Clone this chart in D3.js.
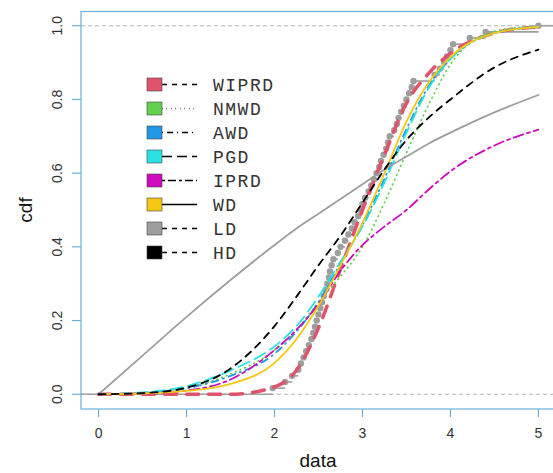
<!DOCTYPE html>
<html>
<head>
<meta charset="utf-8">
<script src="https://cdn.jsdelivr.net/npm/d3@7"></script>
<style>
  body { margin: 0; background: #fff; }
  svg { display: block; }
</style>
</head>
<body>
<svg id="cdf" width="553" height="473"></svg>
<script>
// grid of x values the fitted curves were read at
var xGrid = [0, 0.5, 1, 1.5, 2, 2.25, 2.5, 2.75, 3, 3.25, 3.5, 3.75, 4, 4.5, 5];

// fitted cdf values, one array per distribution
var WIPRD = [0, 0, 0, 0, 0.02, 0.065, 0.18, 0.34, 0.5, 0.65, 0.79, 0.87, 0.925, 0.98, 0.997];
var NMWD  = [0, 0.004, 0.018, 0.055, 0.12, 0.175, 0.25, 0.32, 0.4, 0.52, 0.655, 0.785, 0.895, 0.985, 0.999];
var AWD   = [0, 0.004, 0.016, 0.05, 0.11, 0.17, 0.25, 0.355, 0.46, 0.585, 0.72, 0.835, 0.91, 0.98, 0.997];
var PGD   = [0, 0.005, 0.022, 0.065, 0.13, 0.185, 0.265, 0.36, 0.455, 0.575, 0.71, 0.83, 0.91, 0.98, 0.997];
var IPRD  = [0, 0.002, 0.01, 0.04, 0.12, 0.175, 0.245, 0.335, 0.405, 0.455, 0.5, 0.555, 0.605, 0.675, 0.718];
var WD    = [0, 0.002, 0.009, 0.028, 0.085, 0.15, 0.24, 0.35, 0.465, 0.6, 0.74, 0.845, 0.915, 0.98, 0.997];
var LD    = [0, 0.105, 0.21, 0.31, 0.405, 0.45, 0.49, 0.53, 0.57, 0.61, 0.645, 0.68, 0.71, 0.765, 0.812];
var HD    = [0, 0.003, 0.018, 0.07, 0.185, 0.265, 0.35, 0.43, 0.52, 0.61, 0.69, 0.75, 0.8, 0.887, 0.935];

var obsData = [1.98, 2.12, 2.2, 2.27, 2.3, 2.33, 2.36, 2.39, 2.42, 2.44,
               2.46, 2.48, 2.5, 2.52, 2.54, 2.56, 2.58, 2.6, 2.62, 2.63,
               2.65, 2.67, 2.72, 2.75, 2.8, 2.84, 2.88, 2.91, 2.95, 2.98,
               3.0, 3.03, 3.07, 3.1, 3.13, 3.16, 3.19, 3.21, 3.24, 3.27,
               3.29, 3.31, 3.36, 3.39, 3.41, 3.44, 3.47, 3.5, 3.53, 3.56,
               3.58, 3.82, 3.88, 3.93, 3.96, 4.0, 4.03, 4.22, 4.4, 5.0];

var distNames = ["WIPRD", "NMWD", "AWD", "PGD", "IPRD", "WD", "LD", "HD"];
var xTicks = [0, 1, 2, 3, 4, 5];
var yTicks = [0, 0.2, 0.4, 0.6, 0.8, 1];

var curves = [
  {name: "WIPRD", values: WIPRD, color: "#DF536B", width: 3.5, dash: "12 10", legDash: "5 5"},
  {name: "NMWD",  values: NMWD,  color: "#61D04F", width: 1.8, dash: "0.5 4.5", legDash: "0.5 4"},
  {name: "AWD",   values: AWD,   color: "#2297E6", width: 1.8, dash: "1 5 7 5", legDash: "1 4 6 4"},
  {name: "PGD",   values: PGD,   color: "#28E2E5", width: 1.8, dash: "12 6", legDash: "10 5"},
  {name: "IPRD",  values: IPRD,  color: "#CD0BBC", width: 1.8, dash: "3 4 10 4", legDash: "3 3 8 3"},
  {name: "WD",    values: WD,    color: "#F5C710", width: 1.8, dash: null, legDash: null},
  {name: "LD",    values: LD,    color: "#9E9E9E", width: 1.8, dash: null, legDash: "5 5"},
  {name: "HD",    values: HD,    color: "#000000", width: 1.8, dash: "7 6", legDash: "5 5"}
];

var axisCol = "#6DAFD8";
var svg = d3.select("svg#cdf");

var x = d3.scaleLinear().domain([-0.2, 5.2]).range([81, 556]);
var y = d3.scaleLinear().domain([-0.04, 1.04]).range([409, 11]);

// clip to plot region
svg.append("clipPath").attr("id", "plotclip")
  .append("rect")
    .attr("x", 81).attr("y", 11)
    .attr("width", 475).attr("height", 398);

let plot = svg.append("g").attr("clip-path", "url(#plotclip)");

// reference lines at 0 and 1
plot.selectAll("line.href").data([0, 1]).enter()
  .append("line")
    .attr("class", "href")
    .attr("x1", 81).attr("x2", 556)
    .attr("y1", function(d) { return y(d); })
    .attr("y2", function(d) { return y(d); })
    .attr("stroke", "#b4b4b4")
    .attr("stroke-width", 1)
    .attr("stroke-dasharray", "4 3");

// empirical cdf: horizontal steps + points
let n = obsData.length;
let steps = [{x0: -0.2, x1: obsData[0], p: 0}];
for (let i = 0; i < n; i++) {
  steps.push({x0: obsData[i], x1: i < n - 1 ? obsData[i + 1] : 5.2, p: (i + 1) / n});
}

plot.append("g").attr("class", "steps").selectAll("line")
  .data(steps).enter()
  .append("line")
    .attr("x1", function(d) { return x(d.x0); })
    .attr("x2", function(d) { return x(d.x1); })
    .attr("y1", function(d) { return y(d.p); })
    .attr("y2", function(d) { return y(d.p); })
    .attr("stroke", "#9E9E9E")
    .attr("stroke-width", 1.6);

plot.append("g").attr("class", "points").selectAll("circle")
  .data(obsData).enter()
  .append("circle")
    .attr("cx", function(d) { return x(d); })
    .attr("cy", function(d, i) { return y((i + 1) / n); })
    .attr("r", 3.2)
    .attr("fill", "#9E9E9E");

// fitted curves
let line = d3.line()
  .x(function(d) { return x(d[0]); })
  .y(function(d) { return y(d[1]); })
  .curve(d3.curveMonotoneX);

plot.append("g").attr("class", "curves").selectAll("path")
  .data(curves).enter()
  .append("path")
    .attr("d", function(c) { return line(xGrid.map(function(v, i) { return [v, c.values[i]]; })); })
    .attr("fill", "none")
    .attr("stroke", function(c) { return c.color; })
    .attr("stroke-width", function(c) { return c.width; })
    .attr("stroke-linecap", "round")
    .attr("stroke-dasharray", function(c) { return c.dash; });

// box (right edge falls outside the window)
svg.append("rect")
  .attr("x", 81).attr("y", 11.5)
  .attr("width", 475).attr("height", 397.5)
  .attr("fill", "none")
  .attr("stroke", axisCol)
  .attr("stroke-width", 1.2);

// x axis
let xAxis = svg.append("g").attr("class", "xaxis");
xAxis.selectAll("line").data(xTicks).enter()
  .append("line")
    .attr("x1", function(d) { return x(d); })
    .attr("x2", function(d) { return x(d); })
    .attr("y1", 409).attr("y2", 417)
    .attr("stroke", axisCol).attr("stroke-width", 1.2);
xAxis.selectAll("text").data(xTicks).enter()
  .append("text")
    .attr("x", function(d) { return x(d); })
    .attr("y", 438)
    .attr("text-anchor", "middle")
    .attr("font-family", "Liberation Sans, Arial, sans-serif")
    .attr("font-size", "14px")
    .attr("fill", "#333")
    .text(function(d) { return d; });

// y axis
let yAxis = svg.append("g").attr("class", "yaxis");
yAxis.selectAll("line").data(yTicks).enter()
  .append("line")
    .attr("x1", 72).attr("x2", 81)
    .attr("y1", function(d) { return y(d); })
    .attr("y2", function(d) { return y(d); })
    .attr("stroke", axisCol).attr("stroke-width", 1.2);
yAxis.selectAll("text").data(yTicks).enter()
  .append("text")
    .attr("transform", function(d) { return "translate(62," + y(d) + ") rotate(-90)"; })
    .attr("text-anchor", "middle")
    .attr("font-family", "Liberation Sans, Arial, sans-serif")
    .attr("font-size", "14px")
    .attr("fill", "#333")
    .text(function(d) { return d3.format(".1f")(d); });

// axis titles
svg.append("text")
  .attr("x", 318).attr("y", 467)
  .attr("text-anchor", "middle")
  .attr("font-family", "Liberation Sans, Arial, sans-serif")
  .attr("font-size", "19px")
  .attr("fill", "#111")
  .text("data");

svg.append("text")
  .attr("transform", "translate(32,210) rotate(-90)")
  .attr("text-anchor", "middle")
  .attr("font-family", "Liberation Sans, Arial, sans-serif")
  .attr("font-size", "19px")
  .attr("fill", "#111")
  .text("cdf");

// legend
let legend = svg.append("g").attr("class", "legend")
  .selectAll("g").data(curves).enter()
  .append("g")
    .attr("transform", function(d, i) { return "translate(0," + (84.5 + 24 * i) + ")"; });

legend.append("line")
  .attr("x1", 162).attr("x2", 197)
  .attr("y1", 0).attr("y2", 0)
  .attr("stroke", "#000")
  .attr("stroke-width", 1.5)
  .attr("stroke-dasharray", function(d) { return d.legDash; });

legend.append("rect")
  .attr("x", 147).attr("y", -6.5)
  .attr("width", 15).attr("height", 13)
  .attr("fill", function(d) { return d.color; })
  .attr("stroke", "#444")
  .attr("stroke-width", 0.6);

legend.append("text")
  .attr("x", 213).attr("y", 6)
  .attr("font-family", "Liberation Mono, Courier New, monospace")
  .attr("font-size", "18px")
  .attr("letter-spacing", "1.5px")
  .attr("fill", "#333")
  .text(function(d, i) { return distNames[i]; });
</script>
</body>
</html>
